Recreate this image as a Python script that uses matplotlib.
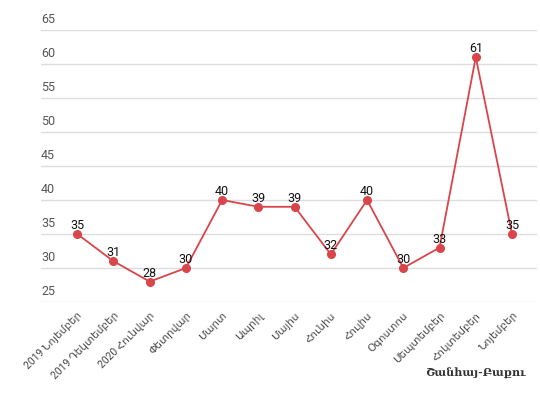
import matplotlib.pyplot as plt
import matplotlib.transforms as mtransforms

months = ["2019 Նոյեմբեր", "2019 Դեկտեմբեր", "2020 Հունվար", "Փետրվար", "Մարտ",
          "Ապրիլ", "Մայիս", "Հունիս", "Հուլիս", "Օգոստոս", "Սեպտեմբեր",
          "Հոկտեմբեր", "Նոյեմբեր"]
values = [35, 31, 28, 30, 40, 39, 39, 32, 40, 30, 33, 61, 35]
y_ticks = [25, 30, 35, 40, 45, 50, 55, 60, 65]

plt.rcParams['font.family'] = ['Roboto', 'DejaVu Sans']

fig = plt.figure(figsize=(5.4, 3.96), dpi=100)
ax = fig.add_axes([41 / 540, 1 - 302 / 396, 496 / 540, 272 / 396])

x = list(range(len(values)))
color = '#d9454a'
ax.plot(x, values, color=color, linewidth=1.3, marker='o', markersize=5.5, zorder=3)

# value labels just above each point
for xi, v in zip(x, values):
    ax.annotate(str(v), (xi, v), xytext=(0, 1.5), textcoords='offset points',
                ha='center', va='bottom', fontsize=9, color='#111111', zorder=4)

ax.set_xlim(-1, 12.69)
ax.set_ylim(25, 65)

# horizontal gridlines with labels above them
trans = mtransforms.blended_transform_factory(ax.transAxes, ax.transData)
for t in y_ticks:
    ax.axhline(t, color='#dddddd', linewidth=1, zorder=1)
    ax.text(0, t + 0.6, str(t), transform=trans, ha='left', va='bottom', fontsize=9, color='#555555')

ax.set_yticks([])
ax.set_xticks(x)
ax.set_xticklabels(months, rotation=45, ha='right', rotation_mode='anchor', fontsize=7.5, color='#444444')
ax.tick_params(axis='x', length=0, pad=6)
for s in ax.spines.values():
    s.set_visible(False)

fig.text(475 / 540, 1 - 373 / 396, "Շանհայ-Բաքու", ha='center', va='center',
         fontsize=8, fontweight='bold', color='#333333', family=['DejaVu Serif'])

fig.savefig('out.png', dpi=100)
